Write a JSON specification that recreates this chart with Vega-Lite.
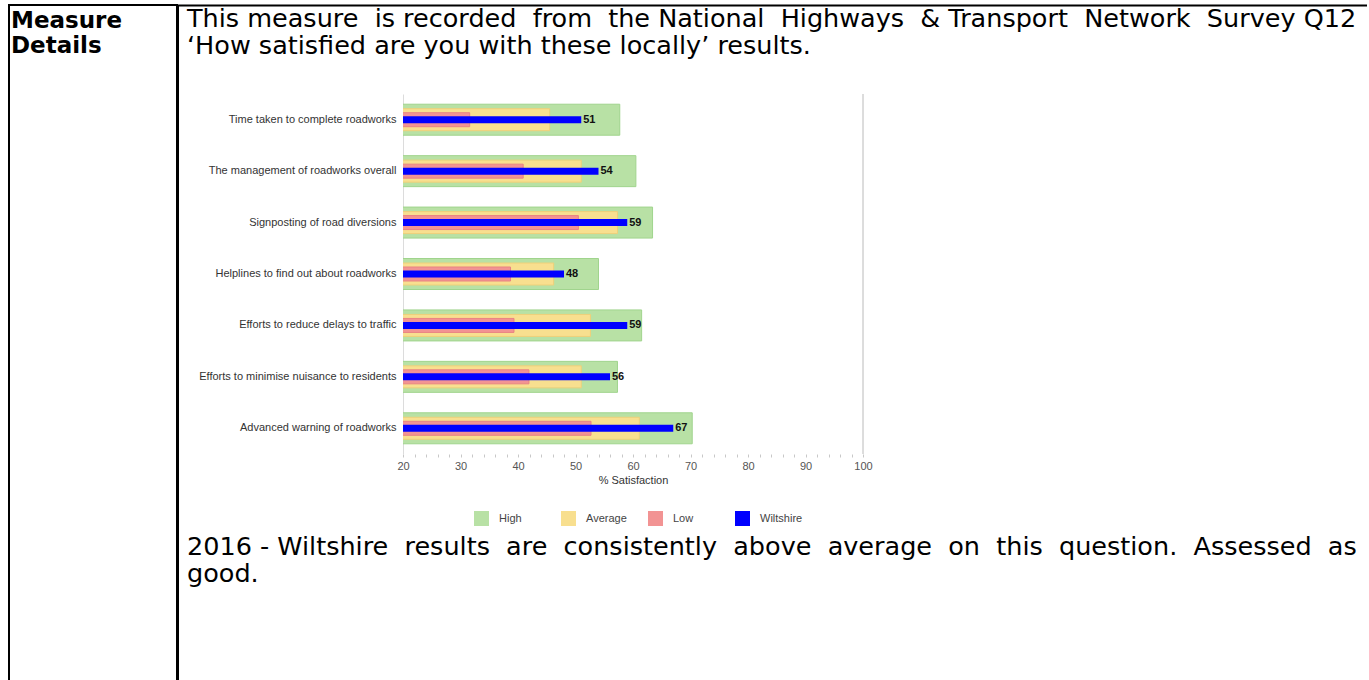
{
  "$schema": "https://vega.github.io/schema/vega-lite/v6.json",
  "padding": {"left": 8, "top": 4, "right": 0, "bottom": 0},
  "background": "white",
  "spacing": 0,
  "bounds": "flush",
  "config": {
    "view": {"stroke": null},
    "font": "Liberation Sans"
  },
  "hconcat": [
    {
      "width": 168,
      "height": 720,
      "view": {"stroke": "black", "strokeWidth": 2},
      "data": {"values": [{"label": "Measure\nDetails"}]},
      "mark": {"type": "text", "font": "DejaVu Sans", "align": "left", "baseline": "top", "lineBreak": "\n", "fontSize": 23, "fontWeight": "bold", "lineHeight": 25, "dx": 2, "dy": 5, "color": "black"},
      "encoding": {
        "x": {"datum": 0, "type": "quantitative", "scale": {"domain": [0, 1]}, "axis": null},
        "y": {"datum": 1, "type": "quantitative", "scale": {"domain": [0, 1]}, "axis": null},
        "text": {"field": "label"}
      }
    },
    {
      "spacing": 0,
      "bounds": "flush",
      "vconcat": [
        {
          "width": 1190,
          "height": 89,
          "data": {"values": [{"para": "This measure \u00a0is recorded \u00a0from \u00a0the National \u00a0Highways \u00a0& Transport \u00a0Network \u00a0Survey Q12\n‘How satisfied are you with these locally’ results."}]},
          "mark": {"type": "text", "font": "DejaVu Sans", "align": "left", "baseline": "top", "lineBreak": "\n", "fontSize": 25.5, "lineHeight": 27, "dx": 10, "dy": 2, "color": "black"},
          "encoding": {
            "x": {"datum": 0, "type": "quantitative", "scale": {"domain": [0, 1]}, "axis": {"orient": "top", "domain": true, "domainColor": "black", "domainWidth": 2, "ticks": false, "labels": false, "grid": false, "title": null}},
            "y": {"datum": 1, "type": "quantitative", "scale": {"domain": [0, 1]}, "axis": null},
            "text": {"field": "para"}
          }
        },
        {
          "spacing": 0,
          "bounds": "flush",
          "hconcat": [
            {
              "width": 226,
              "height": 360,
              "data": {"values": [{"blank": ""}]},
              "mark": {"type": "text"},
              "encoding": {"text": {"field": "blank"}}
            },
            {
              "width": 460,
              "height": 360,
              "data": {"values": [
                {"item": "Time taken to complete roadworks", "series": "High", "value": 57.7},
                {"item": "Time taken to complete roadworks", "series": "Average", "value": 45.5},
                {"item": "Time taken to complete roadworks", "series": "Low", "value": 31.6},
                {"item": "Time taken to complete roadworks", "series": "Wiltshire", "value": 51},
                {"item": "The management of roadworks overall", "series": "High", "value": 60.5},
                {"item": "The management of roadworks overall", "series": "Average", "value": 51.0},
                {"item": "The management of roadworks overall", "series": "Low", "value": 40.9},
                {"item": "The management of roadworks overall", "series": "Wiltshire", "value": 54},
                {"item": "Signposting of road diversions", "series": "High", "value": 63.4},
                {"item": "Signposting of road diversions", "series": "Average", "value": 57.3},
                {"item": "Signposting of road diversions", "series": "Low", "value": 50.5},
                {"item": "Signposting of road diversions", "series": "Wiltshire", "value": 59},
                {"item": "Helplines to find out about roadworks", "series": "High", "value": 54.0},
                {"item": "Helplines to find out about roadworks", "series": "Average", "value": 46.2},
                {"item": "Helplines to find out about roadworks", "series": "Low", "value": 38.7},
                {"item": "Helplines to find out about roadworks", "series": "Wiltshire", "value": 48},
                {"item": "Efforts to reduce delays to traffic", "series": "High", "value": 61.5},
                {"item": "Efforts to reduce delays to traffic", "series": "Average", "value": 52.6},
                {"item": "Efforts to reduce delays to traffic", "series": "Low", "value": 39.3},
                {"item": "Efforts to reduce delays to traffic", "series": "Wiltshire", "value": 59},
                {"item": "Efforts to minimise nuisance to residents", "series": "High", "value": 57.3},
                {"item": "Efforts to minimise nuisance to residents", "series": "Average", "value": 51.0},
                {"item": "Efforts to minimise nuisance to residents", "series": "Low", "value": 41.9},
                {"item": "Efforts to minimise nuisance to residents", "series": "Wiltshire", "value": 56},
                {"item": "Advanced warning of roadworks", "series": "High", "value": 70.3},
                {"item": "Advanced warning of roadworks", "series": "Average", "value": 61.1},
                {"item": "Advanced warning of roadworks", "series": "Low", "value": 52.7},
                {"item": "Advanced warning of roadworks", "series": "Wiltshire", "value": 67}
              ]},
              "encoding": {
                "x": {
                  "field": "value", "type": "quantitative",
                  "scale": {"domain": [20, 100], "zero": false, "nice": false},
                  "axis": {
                    "title": "% Satisfaction",
                    "values": [20, 22, 24, 26, 28, 30, 32, 34, 36, 38, 40, 42, 44, 46, 48, 50, 52, 54, 56, 58, 60, 62, 64, 66, 68, 70, 72, 74, 76, 78, 80, 82, 84, 86, 88, 90, 92, 94, 96, 98, 100],
                    "labelExpr": "datum.value % 10 === 0 ? datum.label : ''",
                    "grid": false, "domain": false, "ticks": true,
                    "tickColor": "#c8c8c8", "tickSize": 3, "tickWidth": 1,
                    "labelPadding": 3, "labelFontSize": 11, "labelColor": "#555555",
                    "labelFlush": false, "labelOverlap": false,
                    "titleFontSize": 11, "titleFontWeight": "normal", "titleColor": "#333333", "titlePadding": 3
                  }
                }
              },
              "layer": [
                {
                  "transform": [{"filter": "datum.series === 'High'"}],
                  "mark": {"type": "bar", "size": 31, "stroke": "#a0d48d", "strokeWidth": 1, "clip": true},
                  "encoding": {
                    "y": {"field": "item", "type": "nominal", "sort": null, "scale": {"paddingInner": 0, "paddingOuter": 0}, "axis": {"title": null, "ticks": false, "domain": true, "domainColor": "#dcdcdc", "labelFontSize": 11, "labelColor": "#333333", "labelPadding": 7, "labelLimit": 400}},
                    "color": {"field": "series", "type": "nominal", "scale": {"domain": ["High", "Average", "Low", "Wiltshire"], "range": ["#b8e1a5", "#f8df8f", "#f29393", "#0000ff"]},
                      "legend": {"orient": "none", "legendX": 465, "legendY": 506, "direction": "horizontal", "title": null, "symbolType": "square", "symbolSize": 225, "symbolStrokeWidth": 0, "labelFontSize": 11, "labelColor": "#444444", "labelOffset": 10, "columnPadding": 19, "gridAlign": "all", "padding": 0}}
                  }
                },
                {
                  "transform": [{"filter": "datum.series === 'Average'"}],
                  "mark": {"type": "bar", "size": 22, "stroke": "#eed07a", "strokeWidth": 1, "clip": true},
                  "encoding": {
                    "y": {"field": "item", "type": "nominal", "sort": null, "scale": {"paddingInner": 0, "paddingOuter": 0}, "axis": {"title": null, "ticks": false, "domain": true, "domainColor": "#dcdcdc", "labelFontSize": 11, "labelColor": "#333333", "labelPadding": 7, "labelLimit": 400}},
                    "color": {"field": "series", "type": "nominal"}
                  }
                },
                {
                  "transform": [{"filter": "datum.series === 'Low'"}],
                  "mark": {"type": "bar", "size": 14, "stroke": "#e98383", "strokeWidth": 1, "clip": true},
                  "encoding": {
                    "y": {"field": "item", "type": "nominal", "sort": null, "scale": {"paddingInner": 0, "paddingOuter": 0}, "axis": {"title": null, "ticks": false, "domain": true, "domainColor": "#dcdcdc", "labelFontSize": 11, "labelColor": "#333333", "labelPadding": 7, "labelLimit": 400}},
                    "color": {"field": "series", "type": "nominal"}
                  }
                },
                {
                  "transform": [{"filter": "datum.series === 'Wiltshire'"}],
                  "mark": {"type": "bar", "size": 7, "clip": true},
                  "encoding": {
                    "y": {"field": "item", "type": "nominal", "sort": null, "scale": {"paddingInner": 0, "paddingOuter": 0}, "axis": {"title": null, "ticks": false, "domain": true, "domainColor": "#dcdcdc", "labelFontSize": 11, "labelColor": "#333333", "labelPadding": 7, "labelLimit": 400}},
                    "color": {"field": "series", "type": "nominal"}
                  }
                },
                {
                  "transform": [{"filter": "datum.series === 'Wiltshire'"}],
                  "mark": {"type": "text", "align": "left", "baseline": "middle", "dx": 2, "fontSize": 11, "fontWeight": "bold", "color": "#111111"},
                  "encoding": {
                    "y": {"field": "item", "type": "nominal", "sort": null, "scale": {"paddingInner": 0, "paddingOuter": 0}, "axis": {"title": null, "ticks": false, "domain": true, "domainColor": "#dcdcdc", "labelFontSize": 11, "labelColor": "#333333", "labelPadding": 7, "labelLimit": 400}},
                    "text": {"field": "value", "type": "quantitative", "format": "d"}
                  }
                },
                {
                  "mark": {"type": "rule", "color": "#dcdcdc", "strokeWidth": 1},
                  "encoding": {
                    "x": {"datum": 100, "type": "quantitative"}
                  }
                }
              ]
            }
          ]
        },
        {
          "width": 1190,
          "height": 240,
          "data": {"values": [{"para": "2016 - Wiltshire \u00a0results \u00a0are \u00a0consistently \u00a0above \u00a0average \u00a0on \u00a0this \u00a0question. \u00a0Assessed \u00a0as\ngood."}]},
          "mark": {"type": "text", "font": "DejaVu Sans", "align": "left", "baseline": "top", "lineBreak": "\n", "fontSize": 25.5, "lineHeight": 27, "dx": 10, "dy": 441, "color": "black"},
          "encoding": {
            "x": {"datum": 0, "type": "quantitative", "scale": {"domain": [0, 1]}, "axis": null},
            "y": {"datum": 1, "type": "quantitative", "scale": {"domain": [0, 1]}, "axis": null},
            "text": {"field": "para"}
          }
        }
      ]
    },
    {
      "width": 1,
      "height": 720,
      "view": {"stroke": "black", "strokeWidth": 1},
      "data": {"values": [{"blank": ""}]},
      "mark": {"type": "text"},
      "encoding": {"text": {"field": "blank"}}
    }
  ]
}
